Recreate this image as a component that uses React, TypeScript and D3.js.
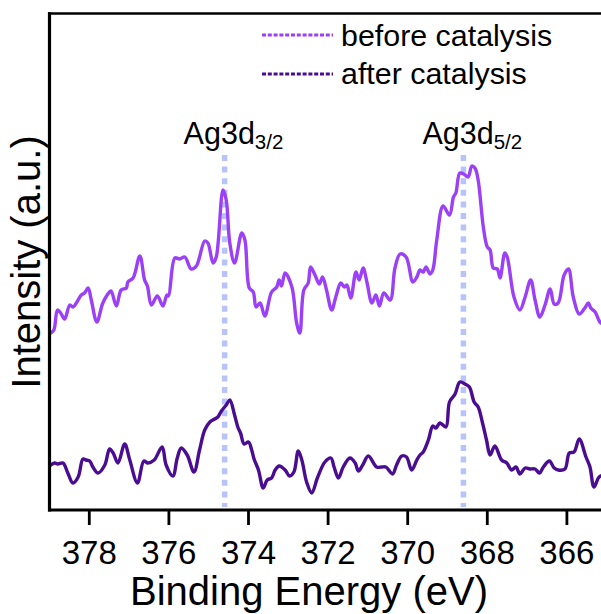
import React from "react";
import * as d3 from "d3";

// Binding energy (eV) and intensity (a.u.)
const beforeEnergy = [378.97,378.89,378.80,378.72,378.62,378.49,378.41,378.20,378.12,378.03,377.95,377.81,377.66,377.49,377.45,377.32,377.20,377.07,377.03,376.90,376.73,376.61,376.54,376.44,376.29,376.15,376.05,376.01,375.85,375.73,375.60,375.44,375.31,375.10,375.02,374.89,374.81,374.64,374.56,374.47,374.35,374.17,374.09,373.98,373.88,373.81,373.71,373.59,373.42,373.29,373.23,373.17,373.08,372.91,372.79,372.71,372.61,372.50,372.44,372.33,372.22,372.14,372.04,371.91,371.80,371.68,371.59,371.53,371.43,371.30,371.22,371.12,371.02,370.90,370.80,370.71,370.60,370.44,370.32,370.19,370.04,369.87,369.77,369.69,369.61,369.54,369.44,369.37,369.27,369.11,368.95,368.85,368.79,368.69,368.59,368.48,368.39,368.31,368.23,368.10,368.00,367.93,367.85,367.75,367.68,367.56,367.50,367.33,367.18,367.05,366.91,366.80,366.68,366.55,366.42,366.32,366.22,366.07,365.96,365.84,365.69,365.55,365.46,365.40,365.29,365.17,365.05];
const beforeIntensity = [178,181,201,198,192,206,204,216,218,223,211,189,208,219,220,205,221,223,229,233,255,231,225,206,215,205,216,215,253,252,254,242,245,270,268,248,254,321,311,268,248,278,271,223,219,204,208,195,219,224,231,225,238,224,188,178,221,228,244,236,227,234,221,201,215,228,224,226,213,239,231,243,228,208,216,205,218,211,243,257,254,229,234,241,239,244,237,241,271,305,296,314,318,338,337,334,345,343,331,284,264,261,243,242,233,258,254,214,201,214,231,211,194,206,222,207,208,236,242,214,197,203,208,203,199,189,186];

const afterEnergy = [378.97,378.87,378.79,378.66,378.54,378.41,378.28,378.16,378.08,377.99,377.91,377.78,377.61,377.49,377.40,377.28,377.11,376.99,376.79,376.63,376.53,376.37,376.17,376.07,375.90,375.79,375.69,375.54,375.37,375.23,375.10,374.97,374.85,374.77,374.68,374.56,374.47,374.35,374.26,374.20,374.11,374.00,373.92,373.86,373.75,373.63,373.53,373.42,373.33,373.23,373.08,372.97,372.86,372.75,372.66,372.54,372.41,372.27,372.08,371.93,371.85,371.74,371.62,371.45,371.32,371.24,371.13,370.99,370.78,370.65,370.55,370.38,370.28,370.15,370.03,369.90,369.77,369.69,369.61,369.48,369.37,369.29,369.19,369.04,368.95,368.81,368.69,368.56,368.45,368.33,368.23,368.12,368.02,367.93,367.81,367.64,367.51,367.39,367.28,367.18,367.05,366.93,366.80,366.69,366.59,366.44,366.32,366.22,366.05,365.94,365.82,365.69,365.52,365.42,365.32,365.19,365.05];
const afterIntensity = [46,48,47,48,38,28,34,52,51,50,44,38,46,62,58,48,67,52,28,50,48,51,64,46,35,53,63,56,39,61,81,89,92,94,100,106,111,96,83,78,67,69,61,52,41,23,31,33,41,45,41,35,39,60,51,29,18,33,49,53,44,33,44,53,48,40,46,55,44,44,44,37,46,55,54,41,51,56,59,71,85,83,88,84,109,117,129,127,124,109,104,88,71,56,65,51,48,41,44,37,43,42,42,38,44,50,43,41,42,58,59,72,54,44,24,34,36];

const xTicks = [378, 376, 374, 372, 370, 368, 366];
const peakEnergies = [374.6, 368.6];
const peakLabels = [
  { main: "Ag3d", sub: "3/2" },
  { main: "Ag3d", sub: "5/2" },
];
const seriesNames = ["before catalysis", "after catalysis"];
const seriesColors = ["#9b40f6", "#4a0c90"];
const peakLineTop = 356;

const W = 601;
const H = 614;
const left = 49.5;
const right = 606.7;
const top = 13.5;
const bottom = 510;

export default function App() {
  const x = d3.scaleLinear().domain([379, 365]).range([left, right]);
  const y = d3.scaleLinear().domain([0, 497]).range([511, 14]);

  const mk = (es: number[], is: number[]) =>
    d3
      .line<number>()
      .x((_, i) => x(es[i]))
      .y((v) => y(v))
      .curve(d3.curveCatmullRom.alpha(0.5))(is) || "";

  const beforePath = mk(beforeEnergy, beforeIntensity);
  const afterPath = mk(afterEnergy, afterIntensity);
  const font = "'Liberation Sans', Arial, sans-serif";

  return (
    <svg
      width={W}
      height={H}
      style={{ position: "absolute", left: 0, top: 0, background: "#fff" }}
      fontFamily={font}
    >
      <defs>
        <clipPath id="plotclip">
          <rect x={left + 1.5} y={top} width={right - left} height={bottom - top} />
        </clipPath>
      </defs>
      {/* peak marker lines */}
      {peakEnergies.map((e, i) => (
        <line
          key={"pk" + i}
          x1={x(e)}
          x2={x(e)}
          y1={y(peakLineTop)}
          y2={bottom - 3}
          stroke="#b8c3fb"
          strokeWidth={5.5}
          strokeDasharray="6,5.6"
        />
      ))}
      <g clipPath="url(#plotclip)">
        <path d={beforePath} fill="none" stroke={seriesColors[0]} strokeWidth={3.4} strokeLinejoin="round" strokeLinecap="round" />
        <path d={afterPath} fill="none" stroke={seriesColors[1]} strokeWidth={3.4} strokeLinejoin="round" strokeLinecap="round" />
      </g>
      {/* frame */}
      <line x1={left} x2={left} y1={top - 1.2} y2={bottom + 1.5} stroke="#000" strokeWidth={3.2} />
      <line x1={left - 1.5} x2={W} y1={top} y2={top} stroke="#000" strokeWidth={2.6} />
      <line x1={left - 1.5} x2={W} y1={bottom} y2={bottom} stroke="#000" strokeWidth={3.2} />
      {/* x ticks */}
      {xTicks.map((t) => (
        <g key={t}>
          <line x1={x(t)} x2={x(t)} y1={bottom} y2={bottom + 15} stroke="#000" strokeWidth={2.8} />
          <text x={x(t)} y={564} textAnchor="middle" fontSize={33} fill="#000">
            {t}
          </text>
        </g>
      ))}
      <text x={309} y={605} textAnchor="middle" fontSize={40} fill="#000">
        Binding Energy (eV)
      </text>
      <text
        transform={`translate(40,262) rotate(-90)`}
        textAnchor="middle"
        fontSize={40}
        fill="#000"
      >
        Intensity (a.u.)
      </text>
      {/* peak labels */}
      {peakEnergies.map((e, i) => (
        <text key={"pl" + i} x={x(e) - 41} y={144} textAnchor="start" fontSize={30.5} fill="#000">
          {peakLabels[i].main}
          <tspan fontSize={20.5} dy={5}>
            {peakLabels[i].sub}
          </tspan>
        </text>
      ))}
      {/* legend */}
      {seriesNames.map((n, i) => (
        <g key={n}>
          <line
            x1={262}
            x2={333}
            y1={35 + i * 39}
            y2={35 + i * 39}
            stroke={seriesColors[i]}
            strokeWidth={3}
            strokeDasharray="4,1.8"
          />
          <text x={341} y={45.5 + i * 38.5} fontSize={30.4} fill="#000">
            {n}
          </text>
        </g>
      ))}
    </svg>
  );
}
